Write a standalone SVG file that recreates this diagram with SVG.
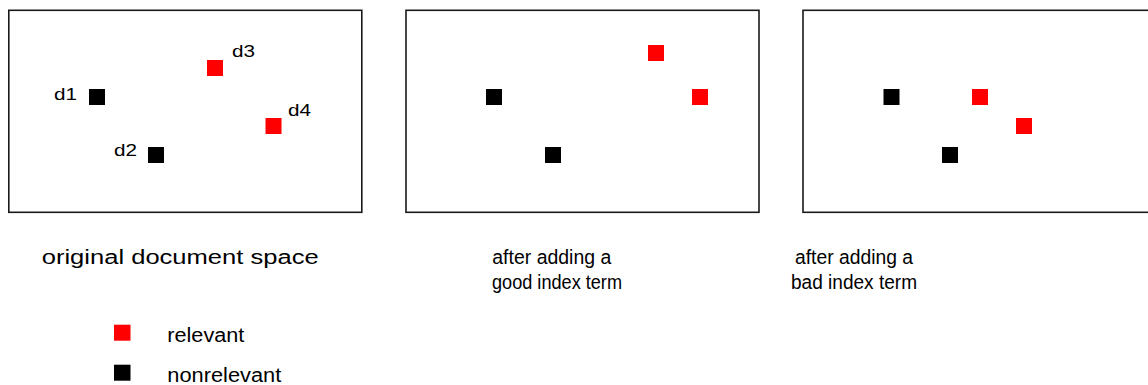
<svg xmlns="http://www.w3.org/2000/svg" width="1148" height="385" viewBox="0 0 1148 385">
<style>
.box{fill:#fff;stroke:#1a1a1a;stroke-width:1.6}
.rel{fill:#ff0000}
.non{fill:#000}
text{font-family:"Liberation Sans",Arial,sans-serif;fill:#000}
.lab{font-size:17px}
.cap{font-size:20px}
.leg{font-size:19.5px}
</style>
<rect width="1148" height="385" fill="#fff"/>
<g id="panel-original">
  <rect class="box" x="8.8" y="10.3" width="353" height="202"/>
  <rect class="non" x="89" y="89" width="16" height="16"/>
  <rect class="rel" x="207" y="60" width="16" height="16"/>
  <rect class="rel" x="265.5" y="118" width="16" height="16"/>
  <rect class="non" x="148" y="147" width="16" height="16"/>
  <text class="lab" x="54" y="100" textLength="23" lengthAdjust="spacingAndGlyphs">d1</text>
  <text class="lab" x="114" y="156" textLength="23" lengthAdjust="spacingAndGlyphs">d2</text>
  <text class="lab" x="232" y="57" textLength="23" lengthAdjust="spacingAndGlyphs">d3</text>
  <text class="lab" x="288" y="116" textLength="23" lengthAdjust="spacingAndGlyphs">d4</text>
  <text class="cap" x="41.7" y="263.5" textLength="277" lengthAdjust="spacingAndGlyphs">original document space</text>
</g>
<g id="panel-good">
  <rect class="box" x="406" y="10.3" width="353" height="202"/>
  <rect class="non" x="486" y="89" width="16" height="16"/>
  <rect class="rel" x="648" y="45" width="16" height="16"/>
  <rect class="rel" x="692" y="89" width="16" height="16"/>
  <rect class="non" x="545" y="147" width="16" height="16"/>
  <text class="cap" x="492.3" y="264.3" textLength="119" lengthAdjust="spacingAndGlyphs">after adding a</text>
  <text class="cap" x="492" y="289" textLength="130" lengthAdjust="spacingAndGlyphs">good index term</text>
</g>
<g id="panel-bad">
  <rect class="box" x="803" y="10.3" width="353" height="202"/>
  <rect class="non" x="883.5" y="89" width="16" height="16"/>
  <rect class="rel" x="972" y="89" width="16" height="16"/>
  <rect class="rel" x="1016" y="118" width="16" height="16"/>
  <rect class="non" x="942" y="147" width="16" height="16"/>
  <text class="cap" x="795" y="264.3" textLength="118" lengthAdjust="spacingAndGlyphs">after adding a</text>
  <text class="cap" x="791" y="289" textLength="126" lengthAdjust="spacingAndGlyphs">bad index term</text>
</g>
<g id="legend">
  <rect class="rel" x="114" y="324.7" width="16.5" height="16"/>
  <text class="leg" x="167.3" y="341.5" textLength="77" lengthAdjust="spacingAndGlyphs">relevant</text>
  <rect class="non" x="114" y="364.7" width="16.5" height="16"/>
  <text class="leg" x="167.3" y="381.5" textLength="114" lengthAdjust="spacingAndGlyphs">nonrelevant</text>
</g>
<g id="connectors"></g>
</svg>
